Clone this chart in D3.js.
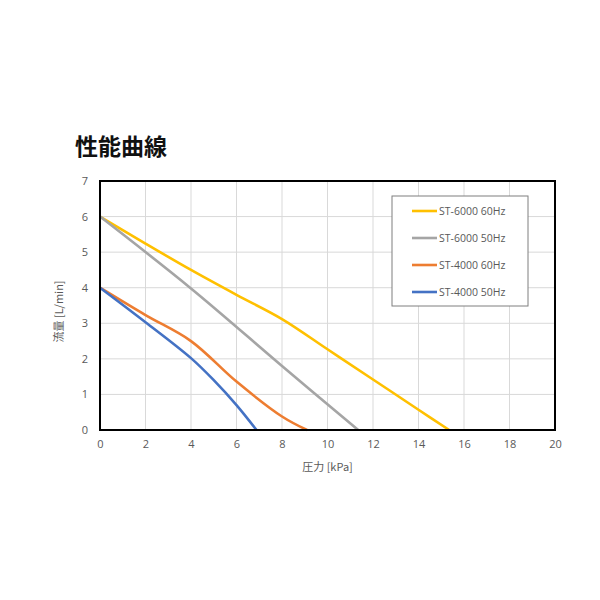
<!DOCTYPE html>
<html>
<head>
<meta charset="utf-8">
<script src="https://cdn.jsdelivr.net/npm/d3@7"></script>
<style>
  body { margin: 0; background: #fff; }
  text { font-family: "Open Sans", "Noto Sans CJK JP", sans-serif; }
</style>
</head>
<body>
<svg width="600" height="600"></svg>
<script>
// data
const seriesNames = ['ST-6000 60Hz', 'ST-6000 50Hz', 'ST-4000 60Hz', 'ST-4000 50Hz'];
const st6000_60 = [[0, 6], [2, 5.24], [4, 4.5], [6, 3.8], [8, 3.12], [10, 2.27], [12, 1.42], [14, 0.57], [15.35, 0]];
const st6000_50 = [[0, 6], [4, 3.98], [8, 1.8], [11.35, 0]];
const st4000_60 = [[0, 4], [2, 3.23], [4, 2.5], [6, 1.36], [8, 0.38], [9.1, 0]];
const st4000_50 = [[0, 4], [2, 3.03], [4, 2.02], [5, 1.4], [6, 0.7], [6.88, 0]];
const colors = ['#FFC000', '#A5A5A5', '#ED7D31', '#4472C4'];
const xTicks = [0, 2, 4, 6, 8, 10, 12, 14, 16, 18, 20];
const yTicks = [0, 1, 2, 3, 4, 5, 6, 7];

const allSeries = [st6000_60, st6000_50, st4000_60, st4000_50];

const svg = d3.select('svg');

const margin = { left: 100, right: 45, top: 181, bottom: 170 };
const width = 600 - margin.left - margin.right;
const height = 600 - margin.top - margin.bottom;

const x = d3.scaleLinear().domain([0, 20]).range([0, width]);
const y = d3.scaleLinear().domain([0, 7]).range([height, 0]);

svg.append('text')
    .attr('x', 75)
    .attr('y', 155)
    .attr('font-size', 23)
    .attr('font-weight', 'bold')
    .attr('fill', '#111')
    .style('font-family', '"Noto Sans CJK JP", sans-serif')
    .text('性能曲線');

const g = svg.append('g')
    .attr('transform', `translate(${ margin.left }, ${ margin.top })`);

// gridlines
g.append('g')
    .selectAll('line')
    .data(xTicks)
    .join('line')
    .attr('x1', d => x(d)).attr('x2', d => x(d))
    .attr('y1', 0).attr('y2', height)
    .attr('stroke', '#d9d9d9');

g.append('g')
    .selectAll('line')
    .data(yTicks)
    .join('line')
    .attr('x1', 0).attr('x2', width)
    .attr('y1', d => y(d)).attr('y2', d => y(d))
    .attr('stroke', '#d9d9d9');

// axes (labels only)
const xAxis = g.append('g')
    .attr('transform', `translate(0, ${ height })`)
    .call(d3.axisBottom(x).tickValues(xTicks).tickFormat(d3.format('d')).tickSize(0).tickPadding(10));

const yAxis = g.append('g')
    .call(d3.axisLeft(y).tickValues(yTicks).tickFormat(d3.format('d')).tickSize(0).tickPadding(12));

[xAxis, yAxis].forEach(a => {
    a.select('.domain').remove();
    a.selectAll('text')
        .attr('fill', '#595959')
        .attr('font-size', 11)
        .style('font-family', '"Open Sans", sans-serif');
});

// curves
const line = d3.line()
    .x(d => x(d[0]))
    .y(d => y(d[1]))
    .curve(d3.curveCatmullRom.alpha(0.5));

g.append('g')
    .selectAll('path')
    .data(allSeries)
    .join('path')
    .attr('d', line)
    .attr('fill', 'none')
    .attr('stroke', (d, i) => colors[i])
    .attr('stroke-width', 2.6);

// frame
g.append('rect')
    .attr('width', width)
    .attr('height', height)
    .attr('fill', 'none')
    .attr('stroke', '#000')
    .attr('stroke-width', 2);

// axis titles
svg.append('text')
    .attr('x', margin.left + width / 2)
    .attr('y', 471)
    .attr('text-anchor', 'middle')
    .attr('font-size', 11)
    .attr('fill', '#595959')
    .style('font-family', '"Noto Sans CJK JP", sans-serif')
    .text('圧力 [kPa]');

svg.append('text')
    .attr('transform', `translate(63, ${ margin.top + height / 2 + 6 }) rotate(-90)`)
    .attr('text-anchor', 'middle')
    .attr('font-size', 11)
    .attr('fill', '#595959')
    .style('font-family', '"Noto Sans CJK JP", sans-serif')
    .text('流量 [L/min]');

// legend
const legend = svg.append('g')
    .attr('transform', 'translate(392, 196)');

legend.append('rect')
    .attr('width', 136)
    .attr('height', 110)
    .attr('fill', '#fff')
    .attr('stroke', '#7f7f7f')
    .attr('stroke-width', 1);

const item = legend.selectAll('g.item')
    .data(seriesNames)
    .join('g')
    .attr('class', 'item')
    .attr('transform', (d, i) => `translate(0, ${ 15 + i * 27 })`);

item.append('line')
    .attr('x1', 20).attr('x2', 45)
    .attr('stroke', (d, i) => colors[i])
    .attr('stroke-width', 2.6);

item.append('text')
    .attr('x', 47)
    .attr('dy', '0.35em')
    .attr('font-size', 10.5)
    .attr('fill', '#595959')
    .text(d => d);
</script>
</body>
</html>
